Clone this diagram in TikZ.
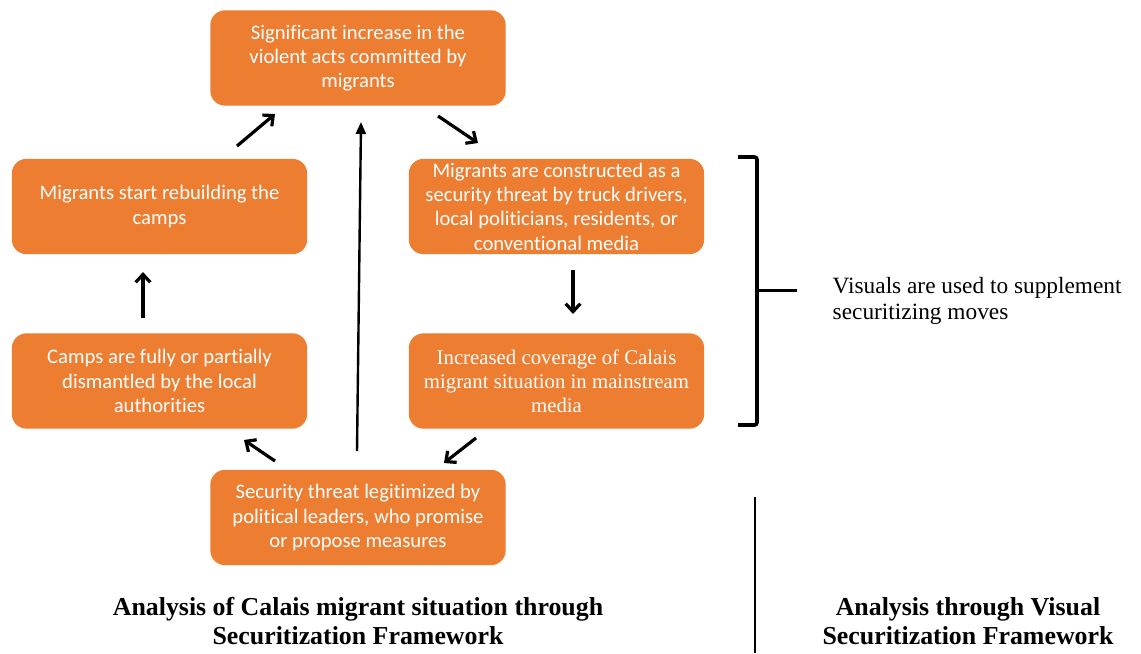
\documentclass[tikz,border=0pt]{standalone}
\usepackage{fontspec}
\setmainfont{Liberation Serif}
\newfontfamily\boxfont[RawFeature={-liga;-clig;-calt;-rlig;-dlig}]{Carlito}
\usetikzlibrary{arrows.meta}
\definecolor{boxorange}{HTML}{ED7D31}
\begin{document}
\begin{tikzpicture}[x=0.75pt,y=-0.75pt,
  box/.style={fill=boxorange, rounded corners=11pt, minimum width=221.5pt, minimum height=71.5pt,
    inner sep=0pt, align=center, text=white, font=\boxfont\fontsize{15.5}{18.3}\selectfont},
  serifbox/.style={box, font=\fontsize{15.6}{18}\selectfont},
  arr/.style={line width=2.4pt, -{Straight Barb[length=6pt,width=11pt]}},
  longarr/.style={line width=1.8pt, -{Triangle[length=9pt,width=7.5pt]}},
  title/.style={align=center, font=\bfseries\fontsize{19.4}{21.8}\selectfont},
  note/.style={align=left, anchor=west, font=\fontsize{17.5}{19.5}\selectfont}]
\useasboundingbox (0,0) rectangle (1141,653);
\node[box] (top) at (358,58) {Significant increase in the\\violent acts committed by\\migrants};
\node[box] (rebuild) at (159.5,206.5) {Migrants start rebuilding the\\camps};
\node[box] (dismantle) at (159.5,381) {Camps are fully or partially\\dismantled by the local\\authorities};
\node[box] (threat) at (556.5,206.5) {Migrants are constructed as a\\security threat by truck drivers,\\local politicians, residents, or\\conventional media};
\node[serifbox] (coverage) at (556.5,381) {Increased coverage of Calais\\migrant situation in mainstream\\media};
\node[box] (legit) at (358,517.5) {Security threat legitimized by\\political leaders, who promise\\or propose measures};
% arrow end coordinates
\coordinate (a1s) at (237,146); \coordinate (a1e) at (275,114);
\coordinate (a2s) at (438,116); \coordinate (a2e) at (478,143);
\coordinate (a3s) at (573,270); \coordinate (a3e) at (573,314);
\coordinate (a4s) at (476,438); \coordinate (a4e) at (444,463);
\coordinate (a5s) at (275,461); \coordinate (a5e) at (244,440);
\coordinate (a6s) at (143,318); \coordinate (a6e) at (143,272);
\coordinate (a7s) at (357,451); \coordinate (a7e) at (361,122);
\draw[arr] (a1s) -- (a1e);
\draw[arr] (a2s) -- (a2e);
\draw[arr] (a3s) -- (a3e);
\draw[arr] (a4s) -- (a4e);
\draw[arr] (a5s) -- (a5e);
\draw[arr] (a6s) -- (a6e);
\draw[longarr] (a7s) -- (a7e);
% bracket
\draw[line width=2.8pt, rounded corners=2pt] (738,157) -- (757,157) -- (757,425) -- (738,425);
\draw[line width=2.8pt] (757,290.5) -- (797,290.5);
\node[note] (visuals) at (828,300.5) {Visuals are used to supplement\\securitizing moves};
% divider
\draw[line width=0.9pt] (755,497) -- (755,653);
\node[title] (t1) at (358,621) {Analysis of Calais migrant situation through\\Securitization Framework};
\node[title] (t2) at (968,621) {Analysis through Visual\\Securitization Framework};
\end{tikzpicture}
\end{document}
